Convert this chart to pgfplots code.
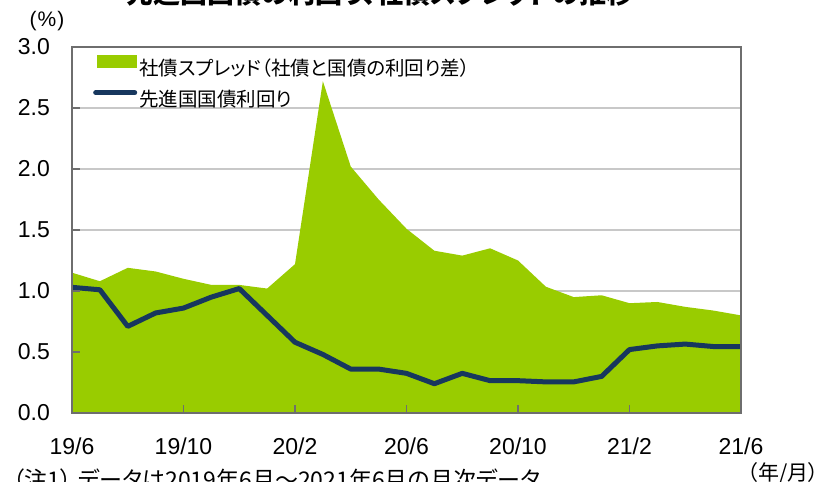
\documentclass[border=0pt]{standalone}
\usepackage{pgfplots}
\pgfplotsset{compat=1.18}
\usepackage{pgfplotstable}
\usepackage{fontspec}
\setmainfont{Liberation Sans}
\newfontfamily\jp[RawFeature=+palt]{Noto Sans CJK JP}
\newfontfamily\jpn{Noto Sans CJK JP}
\definecolor{sgreen}{RGB}{153,204,0}
\definecolor{snavy}{RGB}{23,55,94}
\definecolor{axgray}{RGB}{110,110,110}
\definecolor{gridgray}{RGB}{200,200,200}

\pgfplotstableread{
m s y
0 1.15 1.03
1 1.08 1.01
2 1.19 0.71
3 1.16 0.82
4 1.10 0.86
5 1.05 0.95
6 1.05 1.02
7 1.02 0.80
8 1.22 0.58
9 2.72 0.48
10 2.02 0.36
11 1.75 0.36
12 1.51 0.325
13 1.33 0.24
14 1.29 0.325
15 1.35 0.265
16 1.25 0.265
17 1.035 0.255
18 0.95 0.255
19 0.965 0.30
20 0.90 0.52
21 0.91 0.55
22 0.87 0.565
23 0.84 0.545
24 0.80 0.545
}\data

\begin{document}
\begin{tikzpicture}
% grid layer
\begin{axis}[
  at={(0,0)}, anchor=south west,
  width=669pt, height=366pt, scale only axis,
  xmin=0, xmax=24, ymin=0, ymax=3,
  ytick={0,0.5,...,3}, xtick=\empty,
  yticklabels={},
  ymajorgrids, grid style={gridgray, line width=1.5pt},
  axis line style={draw=none}, major tick length=0pt,
]
\end{axis}
% data layer
\begin{axis}[
  at={(0,0)}, anchor=south west,
  width=669pt, height=366pt, scale only axis,
  xmin=0, xmax=24, ymin=0, ymax=3,
  axis on top,
  xtick={0,4,...,24},
  xticklabels={19/6,19/10,20/2,20/6,20/10,21/2,21/6},
  ytick={0,0.5,...,3},
  /pgf/number format/assume math mode=true,
  yticklabel style={/pgf/number format/fixed, /pgf/number format/fixed zerofill, /pgf/number format/precision=1,
     anchor=east, inner sep=0pt, xshift=-22pt},
  xticklabel style={anchor=base, inner sep=0pt, yshift=-42pt},
  ticklabel style={font=\fontsize{23}{27}\selectfont},
  tick align=inside, major tick length=8pt,
  xtick pos=bottom, ytick pos=left,
  tick style={axgray, line width=1.5pt},
  axis line style={axgray, line width=1.6pt},
  legend cell align=left,
  legend style={at={(0,1)}, anchor=north west, xshift=21pt, yshift=-8pt,
    draw=none, fill=none, inner sep=0pt, row sep=9pt, column sep=0pt,
    font=\jp\fontsize{19.5}{22}\selectfont},
]
\addplot[fill=sgreen, draw=none,
  legend image code/.code={\fill[sgreen] (0pt,0pt) rectangle (40pt,13pt);}]
  table[x=m, y=s] {\data} \closedcycle;
\addlegendentry{社債スプレッド（社債と国債の利回り差）}
\addplot[snavy, line width=5pt, line join=round, mark=none,
  legend image code/.code={\draw[snavy, line width=5pt, line cap=round] (-1pt,6.5pt) -- (38pt,6.5pt);}]
  table[x=m, y=y] {\data};
\addlegendentry{先進国国債利回り}
\end{axis}
\node[anchor=base, font=\jp\bfseries\fontsize{27}{32}\selectfont] at (308pt,409pt) {先進国国債の利回り、社債スプレッドの推移};
\node[anchor=base, font=\fontsize{21}{24}\selectfont, inner sep=0pt] at (-25pt,386pt) {(\kern1pt\%\kern1pt)};
\node[anchor=base west, font=\jp\fontsize{23}{26}\selectfont, inner sep=0pt] at (-59pt,-75pt) {（注1）\hspace{6pt}データは2019年6月～2021年6月の月次データ};
\node[anchor=base east, font=\jp\fontsize{21}{24}\selectfont, inner sep=0pt] at (747pt,-68pt) {（年/月）};
\pgfresetboundingbox
\useasboundingbox (-72pt,-69pt) rectangle (748pt,413pt);
\end{tikzpicture}
\end{document}
